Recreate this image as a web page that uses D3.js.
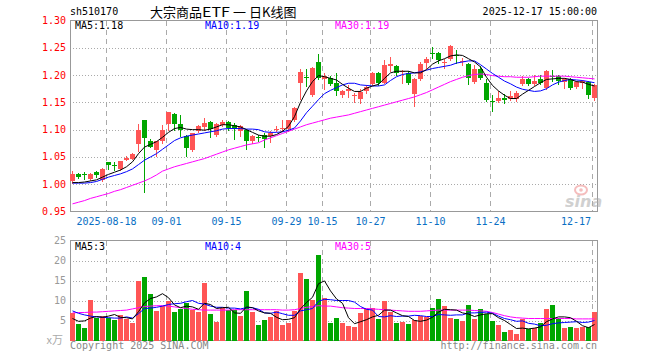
<!DOCTYPE html>
<html><head><meta charset="utf-8">
<script src="https://cdn.jsdelivr.net/npm/d3@7"></script>
<style>body{margin:0;background:#fff}svg{display:block}</style>
</head><body><svg id="c" width="660" height="360"></svg>
<script>
const dates = ["2025-08-08","2025-08-11","2025-08-12","2025-08-13","2025-08-14","2025-08-15","2025-08-18","2025-08-19","2025-08-20","2025-08-21","2025-08-22","2025-08-25","2025-08-26","2025-08-27","2025-08-28","2025-08-29",
"2025-09-01","2025-09-02","2025-09-03","2025-09-04","2025-09-05","2025-09-08","2025-09-09","2025-09-10","2025-09-11","2025-09-12","2025-09-15","2025-09-16","2025-09-17","2025-09-18","2025-09-19","2025-09-22","2025-09-23","2025-09-24","2025-09-25","2025-09-26","2025-09-29","2025-09-30",
"2025-10-09","2025-10-10","2025-10-13","2025-10-14","2025-10-15","2025-10-16","2025-10-17","2025-10-20","2025-10-21","2025-10-22","2025-10-23","2025-10-24","2025-10-27","2025-10-28","2025-10-29","2025-10-30","2025-10-31",
"2025-11-03","2025-11-04","2025-11-05","2025-11-06","2025-11-07","2025-11-10","2025-11-11","2025-11-12","2025-11-13","2025-11-14","2025-11-17","2025-11-18","2025-11-19","2025-11-20","2025-11-21","2025-11-24","2025-11-25","2025-11-26","2025-11-27","2025-11-28",
"2025-12-01","2025-12-02","2025-12-03","2025-12-04","2025-12-05","2025-12-08","2025-12-09","2025-12-10","2025-12-11","2025-12-12","2025-12-15","2025-12-16","2025-12-17"];

const open  = [1.006,1.019,1.019,1.010,1.023,1.007,1.040,1.036,1.028,1.045,1.047,1.073,1.117,1.080,1.063,1.079,1.110,1.129,1.111,1.089,1.062,1.097,1.104,1.114,1.091,1.109,1.114,1.109,1.097,1.100,1.079,1.086,1.091,1.088,1.100,1.101,1.101,1.117,1.185,1.197,1.164,1.224,1.192,1.195,1.186,1.163,1.170,1.163,1.156,1.170,1.183,1.204,1.186,1.216,1.216,1.205,1.203,1.166,1.193,1.222,1.240,1.241,1.222,1.229,1.237,1.224,1.221,1.188,1.211,1.185,1.153,1.152,1.158,1.156,1.156,1.183,1.193,1.184,1.193,1.177,1.199,1.199,1.187,1.192,1.178,1.186,1.187,1.158];
const high  = [1.024,1.020,1.022,1.021,1.024,1.030,1.041,1.040,1.043,1.052,1.057,1.110,1.118,1.082,1.080,1.109,1.132,1.131,1.126,1.090,1.094,1.109,1.121,1.115,1.112,1.118,1.115,1.112,1.109,1.101,1.091,1.091,1.093,1.097,1.106,1.117,1.118,1.141,1.211,1.211,1.214,1.238,1.204,1.199,1.204,1.173,1.181,1.167,1.175,1.181,1.205,1.205,1.227,1.233,1.218,1.209,1.207,1.195,1.224,1.233,1.252,1.242,1.229,1.256,1.246,1.232,1.222,1.218,1.216,1.193,1.164,1.170,1.166,1.170,1.170,1.198,1.195,1.201,1.201,1.209,1.209,1.201,1.195,1.195,1.189,1.191,1.189,1.183];
const low   = [1.003,1.012,1.010,1.008,1.014,1.005,1.028,1.026,1.026,1.044,1.046,1.060,0.985,1.068,1.051,1.076,1.100,1.100,1.088,1.051,1.060,1.096,1.100,1.087,1.088,1.106,1.100,1.083,1.088,1.065,1.076,1.079,1.068,1.077,1.097,1.097,1.097,1.115,1.156,1.180,1.161,1.192,1.175,1.182,1.164,1.159,1.159,1.150,1.149,1.167,1.181,1.181,1.185,1.207,1.201,1.186,1.183,1.144,1.191,1.213,1.232,1.222,1.213,1.227,1.222,1.219,1.183,1.186,1.193,1.152,1.134,1.150,1.149,1.154,1.152,1.181,1.181,1.181,1.184,1.175,1.189,1.183,1.177,1.175,1.177,1.177,1.158,1.155];
const close = [1.019,1.014,1.018,1.019,1.016,1.028,1.036,1.033,1.042,1.048,1.056,1.099,1.085,1.069,1.079,1.099,1.132,1.111,1.099,1.066,1.093,1.107,1.112,1.101,1.111,1.114,1.103,1.101,1.106,1.079,1.089,1.084,1.083,1.094,1.101,1.103,1.117,1.140,1.205,1.195,1.213,1.195,1.198,1.183,1.170,1.170,1.175,1.164,1.169,1.178,1.203,1.185,1.218,1.221,1.204,1.207,1.185,1.193,1.221,1.230,1.238,1.227,1.224,1.254,1.235,1.226,1.194,1.211,1.195,1.154,1.151,1.158,1.154,1.161,1.167,1.193,1.183,1.190,1.186,1.207,1.197,1.189,1.192,1.177,1.187,1.189,1.164,1.181];

const ma5  = [1.003,1.003,1.004,1.006,1.008,1.013,1.018,1.022,1.026,1.032,1.041,1.056,1.068,1.073,1.078,1.086,1.095,1.102,1.104,1.101,1.100,1.100,1.099,1.101,1.105,1.109,1.109,1.107,1.105,1.100,1.095,1.090,1.088,1.088,1.091,1.097,1.106,1.124,1.150,1.171,1.188,1.199,1.197,1.194,1.191,1.183,1.176,1.170,1.170,1.176,1.180,1.183,1.194,1.204,1.207,1.207,1.207,1.204,1.204,1.210,1.220,1.226,1.230,1.235,1.237,1.236,1.230,1.224,1.215,1.196,1.181,1.171,1.163,1.157,1.157,1.165,1.172,1.179,1.186,1.192,1.193,1.194,1.194,1.192,1.188,1.187,1.183,1.180];
const ma10 = [1.002,1.002,1.002,1.003,1.005,1.009,1.013,1.016,1.019,1.023,1.028,1.036,1.044,1.050,1.056,1.064,1.072,1.080,1.085,1.088,1.090,1.092,1.094,1.096,1.098,1.101,1.102,1.102,1.102,1.101,1.101,1.100,1.096,1.095,1.095,1.096,1.099,1.103,1.116,1.131,1.143,1.155,1.166,1.172,1.177,1.182,1.185,1.185,1.182,1.181,1.180,1.180,1.182,1.190,1.197,1.201,1.203,1.204,1.206,1.209,1.212,1.214,1.216,1.218,1.222,1.224,1.226,1.226,1.219,1.211,1.203,1.196,1.189,1.184,1.178,1.174,1.172,1.170,1.171,1.175,1.182,1.187,1.190,1.192,1.191,1.190,1.188,1.186];
const ma30 = [0.964,0.967,0.970,0.974,0.977,0.980,0.983,0.987,0.990,0.994,0.998,1.002,1.006,1.011,1.017,1.024,1.028,1.032,1.035,1.038,1.041,1.044,1.047,1.051,1.055,1.059,1.063,1.066,1.069,1.072,1.074,1.076,1.081,1.085,1.089,1.093,1.097,1.101,1.105,1.109,1.112,1.115,1.118,1.121,1.123,1.125,1.127,1.130,1.133,1.136,1.139,1.142,1.145,1.148,1.151,1.154,1.157,1.160,1.164,1.168,1.173,1.178,1.183,1.188,1.192,1.196,1.199,1.201,1.202,1.201,1.199,1.198,1.197,1.197,1.196,1.196,1.196,1.197,1.198,1.198,1.198,1.198,1.198,1.197,1.196,1.195,1.194,1.193];

const volume = [7.0,4.1,3.1,10.1,5.7,6.1,5.7,5.1,6.3,5.5,4.3,15.0,16.0,11.7,7.3,8.6,9.8,7.1,8.0,9.3,7.6,7.1,14.3,6.6,4.6,8.2,7.7,7.6,6.1,12.3,7.1,3.8,5.1,5.8,7.3,3.8,4.3,7.3,17.0,15.3,10.1,21.5,10.6,4.3,5.6,4.3,3.6,3.3,6.8,7.8,8.1,5.3,9.8,7.1,4.3,4.6,4.1,5.1,6.1,5.8,8.1,10.3,8.6,5.6,5.3,4.8,8.8,5.3,7.8,6.6,4.8,3.8,2.1,2.6,1.6,5.3,2.8,3.1,4.3,7.8,8.8,5.6,3.1,3.3,3.1,3.3,3.3,7.1];
const volMa5  = [5.5,4.8,4.9,5.6,6.0,5.8,6.1,6.5,5.8,5.7,5.4,7.2,9.4,10.5,10.9,11.7,10.7,8.9,8.2,8.6,8.4,7.8,9.3,9.0,8.0,8.2,8.3,6.9,6.8,8.4,8.2,7.4,6.9,6.8,5.8,5.2,5.3,5.7,7.9,9.5,10.8,14.2,14.9,12.4,10.4,9.3,5.7,4.2,4.7,5.2,5.9,6.3,7.6,7.6,6.9,6.2,6.0,5.0,4.8,5.1,5.8,7.1,7.8,7.7,7.6,6.9,6.6,6.0,6.4,6.7,6.7,5.7,5.0,4.0,3.0,3.1,2.9,3.1,3.4,4.7,5.4,5.9,5.9,5.7,4.8,3.7,3.2,4.0];
const volMa10 = [7.4,6.8,6.4,6.1,5.9,5.8,5.7,5.6,5.6,5.9,5.6,6.7,8.0,8.1,8.3,8.6,9.0,9.2,9.3,9.7,10.0,9.3,9.1,8.6,8.3,8.3,8.1,8.1,7.9,8.2,8.2,7.8,6.9,6.8,7.1,6.7,6.3,6.3,7.4,7.7,8.0,9.8,10.3,10.2,10.0,10.0,10.0,9.6,8.5,7.8,7.6,6.0,5.9,6.2,6.0,6.1,6.1,6.3,6.2,6.0,6.0,6.5,6.4,6.3,6.4,6.4,6.9,6.9,7.0,7.1,6.8,6.1,5.5,5.2,4.8,4.9,4.3,4.1,3.7,3.8,4.2,4.4,4.5,4.6,4.7,4.5,4.6,5.0];
const volMa30 = [6.9,7.0,7.0,7.1,7.1,7.2,7.3,7.4,7.5,7.6,7.9,8.2,8.5,8.6,8.7,8.7,8.6,8.4,8.2,8.0,7.8,7.7,7.6,7.6,7.6,7.6,7.6,7.7,7.7,7.7,7.7,7.7,7.7,7.7,7.7,7.6,7.6,7.7,8.0,8.3,8.5,8.7,8.6,8.6,8.4,8.2,8.1,8.0,8.0,8.0,7.9,7.8,7.7,7.6,7.5,7.4,7.3,7.3,7.3,7.4,7.5,7.6,7.6,7.6,7.6,7.6,7.6,7.5,7.4,7.3,7.0,6.6,6.2,5.9,5.7,5.6,5.5,5.5,5.5,5.5,5.5,5.5,5.5,5.5,5.4,5.4,5.4,5.4];

const priceTicks = [1.30,1.25,1.20,1.15,1.10,1.05,1.00,0.95];
const volTicks = [25,20,15,10,5];
const tickDates  = ["2025-08-18","2025-09-01","2025-09-15","2025-09-29","2025-10-15","2025-10-27","2025-11-10","2025-11-24","2025-12-17"];
const tickLabels = ["2025-08-18","09-01","09-15","09-29","10-15","10-27","11-10","11-24","12-17"];
const maLabels = ["MA5:1.18","MA10:1.19","MA30:1.19"];
const volMaLabels = ["MA5:3","MA10:4","MA30:5"];
const titleParts = ["大宗商品", "ETF", "一", "日K线图"];

const RED = "#ff5555", GREEN = "#00a600", GRID = "#aaaaaa", BORDER = "#999999";
const MONO = "'DejaVu Sans Mono', 'Liberation Mono', monospace";
const CJK = "'Noto Sans CJK SC', sans-serif";
const L = 70, R = 597, PT = 20, PB = 211, VT = 240, VB = 340;

const svg = d3.select("#c");
const x = d3.scaleBand().domain(dates).range([L, L + 6 * dates.length]).paddingInner(1/6).paddingOuter(1/12).align(0);
const y = d3.scaleLinear().domain([0.95, 1.30]).range([PB + 0.5, PT + 0.5]);
const yv = d3.scaleLinear().domain([0, 25]).range([VB + 0.5, VT + 0.5]);
const bw = x.bandwidth();
const cx = d => x(d) + 2.5;

// horizontal dotted grid
const g = svg.append("g").attr("shape-rendering", "crispEdges");
g.selectAll(".hp").data(priceTicks.slice(1, -1)).join("line")
  .attr("x1", L).attr("x2", R).attr("y1", d => Math.round(y(d)) + 0.5).attr("y2", d => Math.round(y(d)) + 0.5)
  .attr("stroke", GRID).attr("stroke-dasharray", "1,2");
g.selectAll(".hv").data(volTicks.slice(1)).join("line")
  .attr("x1", L).attr("x2", R).attr("y1", d => Math.round(yv(d)) + 0.5).attr("y2", d => Math.round(yv(d)) + 0.5)
  .attr("stroke", GRID).attr("stroke-dasharray", "1,2");
// vertical dashed grid
tickDates.forEach(d => {
  g.append("line").attr("x1", x(d) + 0.5).attr("x2", x(d) + 0.5).attr("y1", PT + 1).attr("y2", PB)
    .attr("stroke", GRID).attr("stroke-dasharray", "5,4");
  g.append("line").attr("x1", x(d) + 0.5).attr("x2", x(d) + 0.5).attr("y1", VT + 1).attr("y2", VB)
    .attr("stroke", GRID).attr("stroke-dasharray", "5,4");
});
// borders
g.append("rect").attr("x", L + 0.5).attr("y", PT + 0.5).attr("width", R - L).attr("height", PB - PT)
  .attr("fill", "none").attr("stroke", BORDER);
g.append("rect").attr("x", L + 0.5).attr("y", VT + 0.5).attr("width", R - L).attr("height", VB - VT)
  .attr("fill", "none").attr("stroke", BORDER);

// sina watermark
const wm = svg.append("g").attr("opacity", 0.55);
wm.append("ellipse").attr("cx", 581).attr("cy", 190).attr("rx", 6).attr("ry", 4.5).attr("fill", "none").attr("stroke", "#e88").attr("stroke-width", 2);
wm.append("circle").attr("cx", 581).attr("cy", 190).attr("r", 1.8).attr("fill", "#e88");
wm.append("text").attr("x", 565).attr("y", 207).attr("font-family", "'DejaVu Sans', sans-serif")
  .attr("font-size", 16).attr("font-style", "italic").attr("font-weight", "bold").attr("fill", "#aaa").text("sina");

// candles
const idx = d3.range(dates.length);
const cg = svg.append("g").attr("shape-rendering", "crispEdges");
const col = i => close[i] >= open[i] ? RED : GREEN;
cg.selectAll(".wick").data(idx).join("line")
  .attr("x1", i => cx(dates[i])).attr("x2", i => cx(dates[i]))
  .attr("y1", i => Math.round(y(high[i]))).attr("y2", i => Math.round(y(low[i])) + 1)
  .attr("stroke", col);
cg.selectAll(".body").data(idx).join("rect")
  .attr("x", i => x(dates[i])).attr("width", bw)
  .attr("y", i => Math.round(y(Math.max(open[i], close[i]))))
  .attr("height", i => Math.max(1, Math.round(y(Math.min(open[i], close[i]))) - Math.round(y(Math.max(open[i], close[i])))))
  .attr("fill", col);

// volume bars
cg.selectAll(".vol").data(idx).join("rect")
  .attr("x", i => x(dates[i])).attr("width", bw)
  .attr("y", i => Math.round(yv(volume[i])))
  .attr("height", i => VB + 1 - Math.round(yv(volume[i])))
  .attr("fill", col);

// MA lines
const lineP = arr => d3.line().x((v, i) => cx(dates[i])).y(v => y(v))(arr);
const lineV = arr => d3.line().x((v, i) => cx(dates[i])).y(v => yv(v))(arr);
[[ma30, "#ff00ff"], [ma10, "#0000ff"], [ma5, "#000000"]].forEach(([a, c]) =>
  svg.append("path").attr("d", lineP(a)).attr("fill", "none").attr("stroke", c).attr("stroke-width", 1));
[[volMa30, "#ff00ff"], [volMa10, "#0000ff"], [volMa5, "#000000"]].forEach(([a, c]) =>
  svg.append("path").attr("d", lineV(a)).attr("fill", "none").attr("stroke", c).attr("stroke-width", 1));

// texts
const t = svg.append("g").attr("font-family", MONO).attr("font-size", 10);
t.append("text").attr("x", L).attr("y", 15).attr("fill", "#000").text("sh510170");
const tg = t.append("g").attr("font-family", CJK).attr("font-size", 13).attr("fill", "#000");
tg.append("text").attr("x", 150).attr("y", 17).text(titleParts[0]);
tg.append("text").attr("x", 202).attr("y", 17).attr("textLength", 28).attr("lengthAdjust", "spacingAndGlyphs").text(titleParts[1]);
tg.append("text").attr("x", 233).attr("y", 17).text(titleParts[2]);
tg.append("text").attr("x", 249).attr("y", 17).text(titleParts[3]);
t.append("text").attr("x", R).attr("y", 15).attr("text-anchor", "end").attr("fill", "#000").text("2025-12-17 15:00:00");
const maCols = ["#000000", "#0000ff", "#ff00ff"];
maLabels.forEach((s, k) => t.append("text").attr("x", 75 + 130 * k).attr("y", 29).attr("fill", maCols[k]).text(s));
volMaLabels.forEach((s, k) => t.append("text").attr("x", 75 + 130 * k).attr("y", 250).attr("fill", maCols[k]).text(s));
t.selectAll(".pl").data(priceTicks).join("text")
  .attr("x", 66).attr("y", d => y(d)).attr("dy", "0.35em").attr("text-anchor", "end").attr("fill", "#ff0000")
  .text(d => d.toFixed(2));
t.selectAll(".vl").data(volTicks).join("text")
  .attr("x", 66).attr("y", d => yv(d)).attr("dy", "0.35em").attr("text-anchor", "end").attr("fill", "#999")
  .text(d => d);
t.append("text").attr("x", 63).attr("y", 344).attr("text-anchor", "end").attr("fill", "#aaa")
  .attr("font-family", CJK).attr("font-size", 11).text("x万");
tickDates.forEach((d, k) => {
  const last = k === tickDates.length - 1;
  t.append("text").attr("x", last ? 591 : x(d) + 0.5).attr("y", 225)
    .attr("text-anchor", last ? "end" : "middle").attr("fill", "#0a6fc4").text(tickLabels[k]);
});
t.append("text").attr("x", L).attr("y", 349).attr("fill", "#888").text("Copyright 2025 SINA.COM");
t.append("text").attr("x", R).attr("y", 349).attr("text-anchor", "end").attr("fill", "#888").text("http://finance.sina.com.cn");
</script></body></html>
